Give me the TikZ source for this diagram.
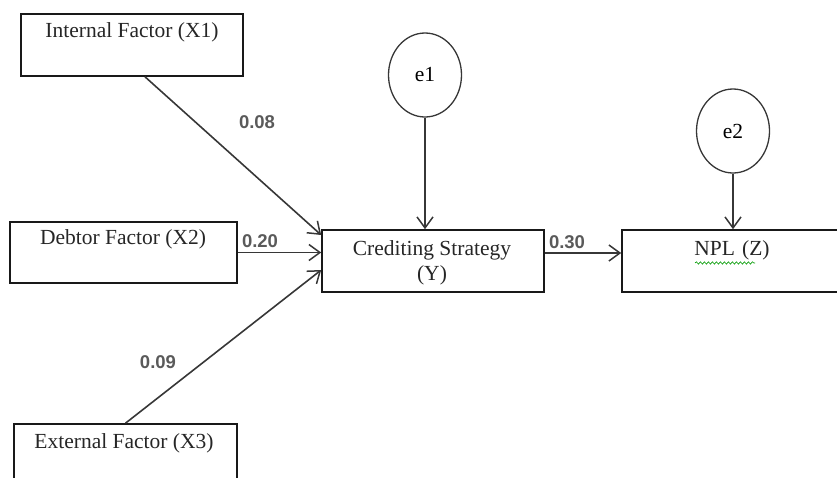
\documentclass[tikz,border=0pt]{standalone}
\usepackage{fontspec}
\setmainfont{Liberation Serif}
\newfontfamily\labfont{Liberation Sans}
\usetikzlibrary{arrows.meta,decorations.pathmorphing,shapes.geometric}
\definecolor{linec}{RGB}{55,55,55}
\definecolor{labc}{RGB}{90,90,90}
\tikzset{
  box/.style={draw=black!90, line width=1.6pt, minimum width=222pt, minimum height=62pt, inner sep=0pt},
  txt/.style={font=\fontsize{21.5}{23}\selectfont, inner sep=0pt, text=black!85},
  err/.style={draw=linec, ellipse, line width=1.3pt, minimum width=73pt, minimum height=84pt, inner sep=0pt, font=\fontsize{21.5}{23}\selectfont},
  coef/.style={font=\labfont\bfseries\fontsize{18.5}{20}\selectfont, text=labc, inner sep=0pt},
  path/.style={draw=linec, line width=1.6pt, -{Straight Barb[length=11pt,width=16pt,line width=1.5pt]}}
}
\begin{document}
\begin{tikzpicture}[x=1pt,y=-1pt]
\useasboundingbox (0,0) rectangle (837,477);
% boxes
\node[box] (x1) at (132,45) {};
\node[txt] (t1) at (132,32) {Internal Factor (X1)};
\node[box, minimum width=227pt, minimum height=61pt] (x2) at (123.5,252.5) {};
\node[txt] (t2) at (123,239) {Debtor Factor (X2)};
\node[box, minimum width=223pt] (x3) at (125.5,455) {};
\node[txt] (t3) at (124,443) {External Factor (X3)};
\node[box] (y) at (433,261) {};
\node[txt] (ty1) at (432,250) {Crediting Strategy};
\node[txt] (ty2) at (432,275) {(Y)};
\node[box, minimum width=228pt] (z) at (736,261) {};
\node[txt] (tz) at (732,250) {NPL\,\,(Z)};
\draw[green!60!black, line width=0.6pt, decorate, decoration={snake, amplitude=1.2pt, segment length=4pt}] (tz.south west) ++(1,3) coordinate (w1) -- ++(60,0) coordinate (w2);
% error terms
\node[err] (e1) at (425,75) {e1};
\node[err] (e2) at (733,131) {e2};
% paths
\draw[path] ([xshift=13pt]x1.south) -- ([yshift=26pt]y.west);
\draw[path] (x2.east) -- (y.west |- x2.east);
\draw[path] (x3.north) -- ([yshift=-9pt]y.west);
\draw[path] (e1.south) -- (y.north -| e1.south);
\draw[path] (e2.south) -- (z.north -| e2.south);
\draw[path] ([yshift=8pt]y.east) -- ([yshift=8pt]z.west);
% coefficients
\node[coef] (c1) at (257,122) {0.08};
\node[coef] (c2) at (260,241) {0.20};
\node[coef] (c3) at (158,362) {0.09};
\node[coef] (c4) at (567,242) {0.30};
\end{tikzpicture}
\end{document}
